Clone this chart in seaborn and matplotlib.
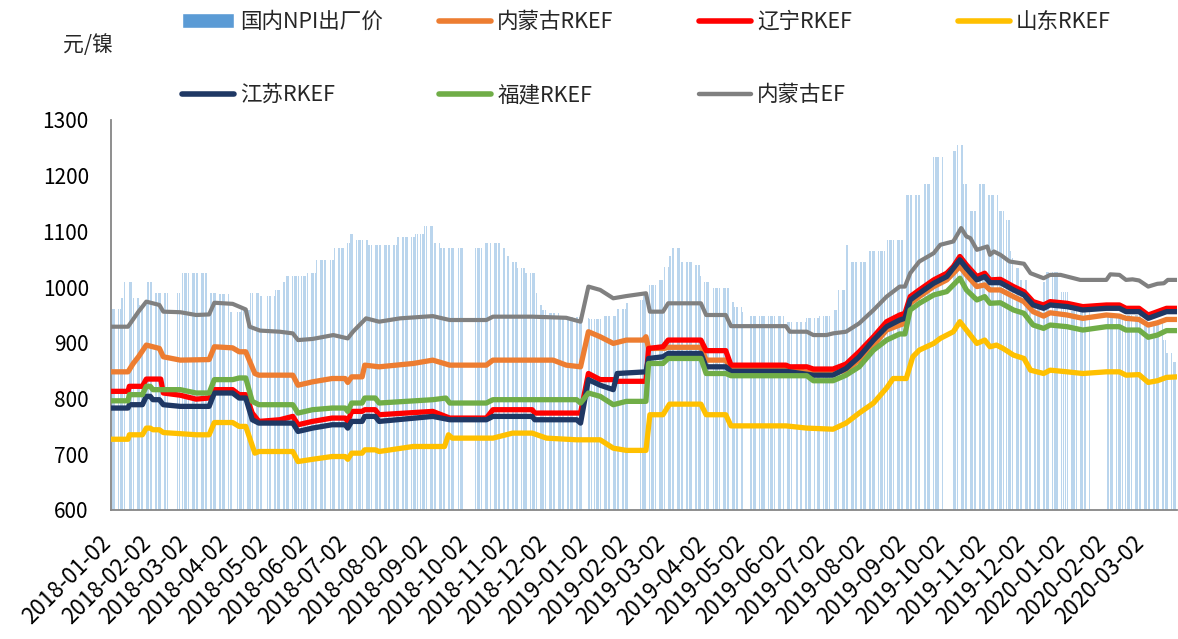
import pandas as pd
import matplotlib
matplotlib.use('Agg')
import matplotlib.pyplot as plt
import matplotlib.dates as mdates
import matplotlib.transforms as mtransforms
from matplotlib.lines import Line2D
from matplotlib.patches import Patch
import seaborn as sns

# ---------------- data (元/镍) ----------------
# 国内NPI出厂价: date a price level starts, and the level (kept until next start)
npi_start = ['2018-01-02', '2018-01-10', '2018-01-12', '2018-01-19', '2018-01-24', '2018-01-30',
             '2018-02-05', '2018-02-26', '2018-03-19', '2018-03-26', '2018-04-03', '2018-04-12',
             '2018-04-19', '2018-04-26', '2018-05-08', '2018-05-14', '2018-05-16', '2018-06-01',
             '2018-06-08', '2018-06-22', '2018-07-02', '2018-07-04', '2018-07-09', '2018-07-18',
             '2018-08-09', '2018-08-23', '2018-08-30', '2018-09-06', '2018-09-11', '2018-10-15',
             '2018-10-29', '2018-11-01', '2018-11-05', '2018-11-09', '2018-11-15', '2018-11-23',
             '2018-11-26', '2018-11-28', '2018-12-03', '2018-12-11', '2018-12-28', '2019-01-03',
             '2019-01-14', '2019-01-24', '2019-01-31', '2019-02-11', '2019-02-13', '2019-02-18',
             '2019-02-25', '2019-03-01', '2019-03-05', '2019-03-07', '2019-03-14', '2019-03-25',
             '2019-03-29', '2019-04-01', '2019-04-08', '2019-04-22', '2019-04-24', '2019-04-30',
             '2019-05-06', '2019-06-03', '2019-06-18', '2019-06-28', '2019-07-08', '2019-07-12',
             '2019-07-18', '2019-07-22', '2019-08-05', '2019-08-19', '2019-09-02', '2019-09-16',
             '2019-09-23', '2019-10-08', '2019-10-11', '2019-10-16', '2019-10-21', '2019-10-28',
             '2019-11-04', '2019-11-12', '2019-11-18', '2019-11-21', '2019-11-22', '2019-11-25',
             '2019-11-28', '2019-12-04', '2019-12-16', '2019-12-18', '2019-12-30', '2020-01-06',
             '2020-02-03', '2020-03-02', '2020-03-17', '2020-03-19', '2020-03-24']
npi_level = [960, 980, 1010, 980, 968, 1010,
             990, 1025, 990, 988, 955, 959,
             990, 984, 995, 1010, 1020, 1025,
             1049, 1070, 1080, 1095, 1085, 1075,
             1090, 1095, 1110, 1080, 1070, 1080,
             1070, 1055, 1045, 1034, 1025, 990,
             968, 959, 953, 947, 945, 942,
             949, 960, 971, 977, 990, 1004,
             1013, 1037, 1055, 1070, 1045, 1040,
             1020, 1009, 999, 974, 965, 955,
             949, 938, 944, 949, 959, 995,
             1076, 1046, 1065, 1085, 1165, 1185,
             1234, 1245, 1255, 1186, 1136, 1185,
             1165, 1136, 1121, 1064, 1052, 1034,
             1013, 975, 1010, 1028, 992, 958,
             950, 935, 905, 882, 866]
# days without a price (holidays)
no_price = [('2018-02-15', '2018-02-21'), ('2018-04-05', '2018-04-06'), ('2018-04-30', '2018-05-01'),
            ('2018-06-18', '2018-06-18'), ('2018-09-24', '2018-09-24'), ('2018-10-01', '2018-10-05'),
            ('2018-12-31', '2019-01-01'), ('2019-02-04', '2019-02-08'), ('2019-04-05', '2019-04-05'),
            ('2019-05-01', '2019-05-03'), ('2019-06-07', '2019-06-07'), ('2019-09-13', '2019-09-13'),
            ('2019-10-01', '2019-10-07'), ('2020-01-01', '2020-01-01'), ('2020-01-21', '2020-02-02')]

# 内蒙古RKEF
nmg_rkef_date = ['2018-01-02', '2018-01-15', '2018-01-19', '2018-01-23', '2018-01-29', '2018-02-08',
                 '2018-02-11', '2018-02-24', '2018-03-18', '2018-03-22', '2018-04-05', '2018-04-10',
                 '2018-04-15', '2018-04-22', '2018-04-25', '2018-05-21', '2018-05-25', '2018-06-05',
                 '2018-06-20', '2018-06-30', '2018-07-02', '2018-07-05', '2018-07-13', '2018-07-15',
                 '2018-07-26', '2018-08-21', '2018-09-05', '2018-09-18', '2018-10-16', '2018-10-21',
                 '2018-12-06', '2018-12-16', '2018-12-27', '2019-01-02', '2019-01-11', '2019-01-21',
                 '2019-01-31', '2019-02-13', '2019-02-15', '2019-02-17', '2019-03-01', '2019-03-04',
                 '2019-03-29', '2019-04-02', '2019-04-17', '2019-04-21', '2019-06-02', '2019-06-23',
                 '2019-07-08', '2019-07-18', '2019-07-28', '2019-08-08', '2019-08-18', '2019-08-28',
                 '2019-09-01', '2019-09-05', '2019-09-12', '2019-09-23', '2019-10-03', '2019-10-13',
                 '2019-10-18', '2019-10-26', '2019-11-01', '2019-11-05', '2019-11-13', '2019-11-23',
                 '2019-12-01', '2019-12-08', '2019-12-16', '2019-12-21', '2020-01-03', '2020-01-15',
                 '2020-02-02', '2020-02-12', '2020-02-17', '2020-02-27', '2020-03-05', '2020-03-12',
                 '2020-03-19', '2020-03-27']
nmg_rkef_val = [848, 848, 863, 875, 896, 890,
                875, 869, 870, 893, 891, 884,
                884, 845, 842, 842, 824, 830,
                836, 836, 829, 839, 839, 860,
                857, 863, 869, 860, 860, 869,
                869, 860, 857, 920, 911, 899,
                905, 905, 911, 890, 890, 892,
                892, 869, 869, 854, 854, 845,
                845, 851, 869, 896, 923, 932,
                935, 971, 983, 1001, 1013, 1037,
                1022, 1001, 1004, 995, 995, 983,
                974, 956, 948, 954, 950, 944,
                950, 948, 944, 942, 932, 936,
                942, 942]

# 辽宁RKEF
ln_rkef_date = ['2018-01-02', '2018-01-15', '2018-01-16', '2018-01-26', '2018-01-29', '2018-02-09',
                '2018-02-11', '2018-02-24', '2018-03-08', '2018-03-18', '2018-03-22', '2018-04-05',
                '2018-04-10', '2018-04-15', '2018-04-20', '2018-04-25', '2018-05-11', '2018-05-21',
                '2018-05-25', '2018-06-05', '2018-06-20', '2018-06-30', '2018-07-02', '2018-07-05',
                '2018-07-13', '2018-07-15', '2018-07-23', '2018-07-26', '2018-09-05', '2018-09-18',
                '2018-10-16', '2018-10-21', '2018-11-20', '2018-11-22', '2018-12-27', '2019-01-02',
                '2019-01-11', '2019-01-21', '2019-01-24', '2019-02-15', '2019-02-17', '2019-02-28',
                '2019-03-04', '2019-03-29', '2019-04-02', '2019-04-17', '2019-04-21', '2019-06-02',
                '2019-06-05', '2019-06-18', '2019-06-23', '2019-07-08', '2019-07-18', '2019-07-28',
                '2019-08-08', '2019-08-18', '2019-08-28', '2019-09-01', '2019-09-05', '2019-09-12',
                '2019-09-23', '2019-10-03', '2019-10-08', '2019-10-13', '2019-10-18', '2019-10-26',
                '2019-11-01', '2019-11-05', '2019-11-13', '2019-11-23', '2019-12-01', '2019-12-08',
                '2019-12-16', '2019-12-21', '2020-01-03', '2020-01-15', '2020-02-02', '2020-02-12',
                '2020-02-17', '2020-02-27', '2020-03-05', '2020-03-12', '2020-03-19', '2020-03-27']
ln_rkef_val = [813, 813, 822, 822, 835, 835,
               810, 806, 799, 801, 816, 816,
               807, 807, 774, 759, 762, 768,
               753, 759, 765, 765, 759, 777,
               777, 780, 780, 771, 777, 765,
               765, 780, 780, 774, 774, 845,
               834, 834, 831, 831, 890, 893,
               905, 905, 886, 886, 860, 860,
               857, 857, 853, 853, 862, 884,
               911, 938, 950, 953, 983, 995,
               1013, 1025, 1037, 1055, 1040, 1019,
               1025, 1013, 1014, 1001, 992, 974,
               968, 974, 971, 965, 968, 968,
               962, 962, 950, 956, 962, 962]

# 山东RKEF
sd_rkef_date = ['2018-01-02', '2018-01-15', '2018-01-16', '2018-01-26', '2018-01-29', '2018-02-01',
                '2018-02-03', '2018-02-08', '2018-02-11', '2018-02-24', '2018-03-08', '2018-03-18',
                '2018-03-22', '2018-04-05', '2018-04-10', '2018-04-15', '2018-04-22', '2018-04-25',
                '2018-05-21', '2018-05-25', '2018-06-05', '2018-06-20', '2018-06-30', '2018-07-02',
                '2018-07-05', '2018-07-13', '2018-07-15', '2018-07-23', '2018-07-26', '2018-08-21',
                '2018-09-14', '2018-09-17', '2018-09-20', '2018-10-21', '2018-11-05', '2018-11-20',
                '2018-12-01', '2018-12-24', '2019-01-11', '2019-01-21', '2019-01-31', '2019-02-15',
                '2019-02-18', '2019-02-28', '2019-03-05', '2019-03-29', '2019-04-02', '2019-04-17',
                '2019-04-21', '2019-06-02', '2019-06-18', '2019-07-08', '2019-07-18', '2019-07-28',
                '2019-08-08', '2019-08-18', '2019-08-23', '2019-09-02', '2019-09-07', '2019-09-12',
                '2019-09-23', '2019-09-28', '2019-10-08', '2019-10-13', '2019-10-18', '2019-10-26',
                '2019-11-01', '2019-11-05', '2019-11-10', '2019-11-15', '2019-11-23', '2019-12-01',
                '2019-12-06', '2019-12-16', '2019-12-21', '2020-01-03', '2020-01-15', '2020-02-02',
                '2020-02-12', '2020-02-17', '2020-02-27', '2020-03-05', '2020-03-12', '2020-03-19',
                '2020-03-27']
sd_rkef_val = [727, 727, 735, 735, 747, 747,
               744, 744, 739, 737, 735, 735,
               757, 757, 750, 750, 702, 705,
               705, 687, 691, 696, 696, 691,
               702, 702, 708, 708, 705, 714,
               714, 735, 729, 729, 738, 738,
               729, 726, 726, 711, 707, 707,
               771, 771, 790, 790, 771, 771,
               751, 751, 747, 745, 756, 774,
               792, 819, 836, 836, 875, 887,
               899, 908, 920, 938, 923, 899,
               905, 893, 896, 890, 878, 872,
               851, 845, 851, 848, 845, 848,
               848, 842, 843, 829, 832, 838,
               839]

# 江苏RKEF
js_rkef_date = ['2018-01-02', '2018-01-15', '2018-01-16', '2018-01-26', '2018-01-29', '2018-02-01',
                '2018-02-03', '2018-02-08', '2018-02-11', '2018-02-24', '2018-03-18', '2018-03-22',
                '2018-04-05', '2018-04-10', '2018-04-15', '2018-04-20', '2018-04-25', '2018-05-21',
                '2018-05-25', '2018-06-05', '2018-06-20', '2018-06-30', '2018-07-02', '2018-07-05',
                '2018-07-13', '2018-07-15', '2018-07-23', '2018-07-26', '2018-09-05', '2018-09-18',
                '2018-10-16', '2018-10-21', '2018-11-20', '2018-11-22', '2018-12-24', '2018-12-27',
                '2019-01-02', '2019-01-11', '2019-01-21', '2019-01-24', '2019-02-15', '2019-02-17',
                '2019-02-28', '2019-03-04', '2019-03-29', '2019-04-02', '2019-04-17', '2019-04-21',
                '2019-06-02', '2019-06-23', '2019-07-08', '2019-07-18', '2019-07-28', '2019-08-08',
                '2019-08-18', '2019-08-28', '2019-09-01', '2019-09-05', '2019-09-12', '2019-09-23',
                '2019-10-03', '2019-10-13', '2019-10-18', '2019-10-26', '2019-11-01', '2019-11-05',
                '2019-11-13', '2019-11-23', '2019-12-01', '2019-12-08', '2019-12-16', '2019-12-21',
                '2020-01-03', '2020-01-15', '2020-02-02', '2020-02-12', '2020-02-17', '2020-02-27',
                '2020-03-05', '2020-03-12', '2020-03-19', '2020-03-27']
js_rkef_val = [783, 783, 789, 789, 804, 804,
               798, 798, 789, 786, 786, 810,
               810, 801, 801, 762, 756, 756,
               741, 747, 753, 753, 747, 759,
               759, 768, 768, 759, 768, 762,
               762, 768, 768, 762, 762, 756,
               834, 824, 816, 845, 848, 872,
               875, 881, 881, 857, 857, 849,
               849, 842, 842, 854, 875, 905,
               929, 941, 944, 977, 989, 1007,
               1019, 1049, 1034, 1013, 1019, 1008,
               1008, 995, 986, 968, 962, 968,
               965, 959, 962, 962, 956, 956,
               944, 950, 956, 956]

# 福建RKEF
fj_rkef_date = ['2018-01-02', '2018-01-15', '2018-01-16', '2018-01-26', '2018-01-29', '2018-02-01',
                '2018-02-03', '2018-02-24', '2018-03-08', '2018-03-18', '2018-03-22', '2018-04-05',
                '2018-04-10', '2018-04-15', '2018-04-20', '2018-04-25', '2018-05-21', '2018-05-25',
                '2018-06-05', '2018-06-20', '2018-06-30', '2018-07-02', '2018-07-05', '2018-07-13',
                '2018-07-15', '2018-07-23', '2018-07-26', '2018-09-05', '2018-09-15', '2018-09-18',
                '2018-10-16', '2018-10-21', '2018-12-24', '2018-12-27', '2019-01-02', '2019-01-11',
                '2019-01-21', '2019-01-31', '2019-02-15', '2019-02-17', '2019-02-28', '2019-03-04',
                '2019-03-29', '2019-04-02', '2019-04-17', '2019-04-21', '2019-06-18', '2019-06-23',
                '2019-07-08', '2019-07-18', '2019-07-28', '2019-08-08', '2019-08-18', '2019-08-28',
                '2019-09-01', '2019-09-05', '2019-09-12', '2019-09-23', '2019-10-03', '2019-10-13',
                '2019-10-18', '2019-10-26', '2019-11-01', '2019-11-05', '2019-11-13', '2019-11-23',
                '2019-12-01', '2019-12-08', '2019-12-16', '2019-12-21', '2020-01-03', '2020-01-15',
                '2020-02-02', '2020-02-12', '2020-02-17', '2020-02-27', '2020-03-05', '2020-03-12',
                '2020-03-19', '2020-03-27']
fj_rkef_val = [796, 796, 807, 807, 822, 822,
               816, 816, 810, 810, 834, 834,
               837, 837, 795, 789, 789, 774,
               780, 783, 783, 777, 792, 792,
               801, 801, 792, 798, 801, 792,
               792, 798, 798, 792, 810, 804,
               789, 795, 795, 863, 863, 872,
               872, 845, 845, 841, 841, 832,
               832, 842, 857, 887, 905, 916,
               916, 959, 971, 986, 992, 1016,
               995, 977, 983, 971, 972, 959,
               953, 932, 926, 932, 929, 923,
               929, 929, 923, 923, 910, 914,
               922, 922]

# 内蒙古EF
nmg_ef_date = ['2018-01-02', '2018-01-15', '2018-01-23', '2018-01-29', '2018-02-08', '2018-02-11',
               '2018-02-24', '2018-03-08', '2018-03-18', '2018-03-22', '2018-04-05', '2018-04-15',
               '2018-04-18', '2018-04-26', '2018-05-11', '2018-05-21', '2018-05-25', '2018-06-05',
               '2018-06-21', '2018-07-02', '2018-07-06', '2018-07-16', '2018-07-26', '2018-08-11',
               '2018-09-05', '2018-09-18', '2018-10-16', '2018-10-21', '2018-11-20', '2018-12-16',
               '2018-12-27', '2019-01-02', '2019-01-11', '2019-01-21', '2019-01-31', '2019-02-15',
               '2019-02-18', '2019-02-28', '2019-03-04', '2019-03-29', '2019-04-02', '2019-04-17',
               '2019-04-21', '2019-06-02', '2019-06-05', '2019-06-18', '2019-06-23', '2019-07-03',
               '2019-07-08', '2019-07-18', '2019-07-28', '2019-08-08', '2019-08-18', '2019-08-28',
               '2019-09-01', '2019-09-05', '2019-09-12', '2019-09-23', '2019-09-28', '2019-10-08',
               '2019-10-14', '2019-10-18', '2019-10-21', '2019-10-26', '2019-11-03', '2019-11-05',
               '2019-11-08', '2019-11-13', '2019-11-20', '2019-12-01', '2019-12-06', '2019-12-16',
               '2019-12-21', '2019-12-29', '2020-01-13', '2020-02-02', '2020-02-05', '2020-02-12',
               '2020-02-17', '2020-02-22', '2020-02-27', '2020-03-05', '2020-03-12', '2020-03-17',
               '2020-03-20', '2020-03-27']
nmg_ef_val = [929, 929, 956, 974, 968, 956,
              955, 950, 951, 972, 970, 960,
              929, 922, 920, 917, 905, 907,
              914, 908, 920, 944, 938, 944,
              948, 941, 941, 947, 947, 945,
              938, 1001, 995, 980, 984, 989,
              956, 956, 971, 971, 950, 950,
              930, 930, 920, 920, 914, 914,
              917, 920, 935, 959, 983, 1001,
              1001, 1025, 1046, 1061, 1076, 1082,
              1106, 1091, 1088, 1067, 1073, 1058,
              1064, 1058, 1046, 1042, 1025, 1016,
              1022, 1022, 1013, 1013, 1023, 1022,
              1013, 1014, 1012, 1001, 1006, 1007,
              1013, 1013]

# tick labels sit on the 2nd of every month
month_ticks = pd.date_range('2018-01-01', '2020-03-01', freq='MS') + pd.Timedelta(days=1)

# ---------------- build the daily NPI bars ----------------
days = pd.bdate_range('2018-01-02', '2020-03-27')
for a, b in no_price:
    days = days[(days < pd.Timestamp(a)) | (days > pd.Timestamp(b))]
npi = pd.Series(npi_level, index=pd.to_datetime(npi_start)).reindex(days, method='ffill')

lines = [
    ('内蒙古RKEF', nmg_rkef_date, nmg_rkef_val, '#ED7D31', 3.8),
    ('辽宁RKEF', ln_rkef_date, ln_rkef_val, '#FF0000', 3.8),
    ('山东RKEF', sd_rkef_date, sd_rkef_val, '#FFC000', 3.8),
    ('江苏RKEF', js_rkef_date, js_rkef_val, '#1F3864', 3.8),
    ('福建RKEF', fj_rkef_date, fj_rkef_val, '#70AD47', 3.8),
    ('内蒙古EF', nmg_ef_date, nmg_ef_val, '#808080', 3.0),
]

# ---------------- plot ----------------
sns.set_style('white')
plt.rcParams['font.family'] = ['Noto Sans CJK SC', 'DejaVu Sans']

fig = plt.figure(figsize=(11.78, 6.39), dpi=100)
ax = fig.add_axes([111 / 1178, 1 - 510 / 639, (1177 - 111) / 1178, 390 / 639])

ax.bar(npi.index, npi.values, width=0.75, color='#5B9BD5', alpha=0.42, linewidth=0, zorder=1)

for name, d, v, c, lw in lines:
    df = pd.DataFrame({'date': pd.to_datetime(d), 'value': v})
    sns.lineplot(data=df, x='date', y='value', ax=ax, color=c, linewidth=lw,
                 solid_capstyle='round', solid_joinstyle='round', zorder=3)

ax.set_ylim(600, 1300)
ax.set_yticks(range(600, 1301, 100))
ax.set_xlim(pd.Timestamp('2018-01-02'), pd.Timestamp('2020-03-27'))
ax.set_xticks(month_ticks)
ax.xaxis.set_major_formatter(mdates.DateFormatter('%Y-%m-%d'))
ax.set_xlabel('')
ax.set_ylabel('')

for s in ['top', 'right']:
    ax.spines[s].set_visible(False)
for s in ['left', 'bottom']:
    ax.spines[s].set_color('#868686')
    ax.spines[s].set_linewidth(1.3)
ax.tick_params(axis='both', direction='out', length=5, width=1.1, color='#868686',
               labelcolor='black')
ax.tick_params(axis='y', pad=11, labelsize=15)
ax.tick_params(axis='x', pad=16.5, labelsize=16)
shift = mtransforms.ScaledTranslation(-4 / 100, 0, fig.dpi_scale_trans)
for lab in ax.get_xticklabels():
    lab.set_rotation(45)
    lab.set_ha('right')
    lab.set_va('center')
    lab.set_rotation_mode('anchor')
    lab.set_transform(lab.get_transform() + shift)

fig.text(88 / 1178, 1 - 45 / 639, '元/镍', fontsize=15, ha='center', va='center')

# legend: one small legend per entry, laid out like the original
leg_items = [(Patch(facecolor='#5B9BD5'), '国内NPI出厂价', 182, 22)]
leg_pos = [(439, 22), (699, 22), (958, 22), (182, 95), (439, 95), (699, 95)]
for (name, d, v, c, lw), (px, py) in zip(lines, leg_pos):
    leg_items.append((Line2D([0], [0], color=c, linewidth=lw + 0.2, solid_capstyle='round'), name, px, py))
for h, lab, px, py in leg_items:
    fig.legend(handles=[h], labels=[lab], loc='center left',
               bbox_to_anchor=(px / 1178, 1 - py / 639), frameon=False,
               fontsize=15.5, borderpad=0, borderaxespad=0,
               handlelength=2.4, handleheight=0.65, handletextpad=0.3)

fig.savefig('out.png', dpi=100)
